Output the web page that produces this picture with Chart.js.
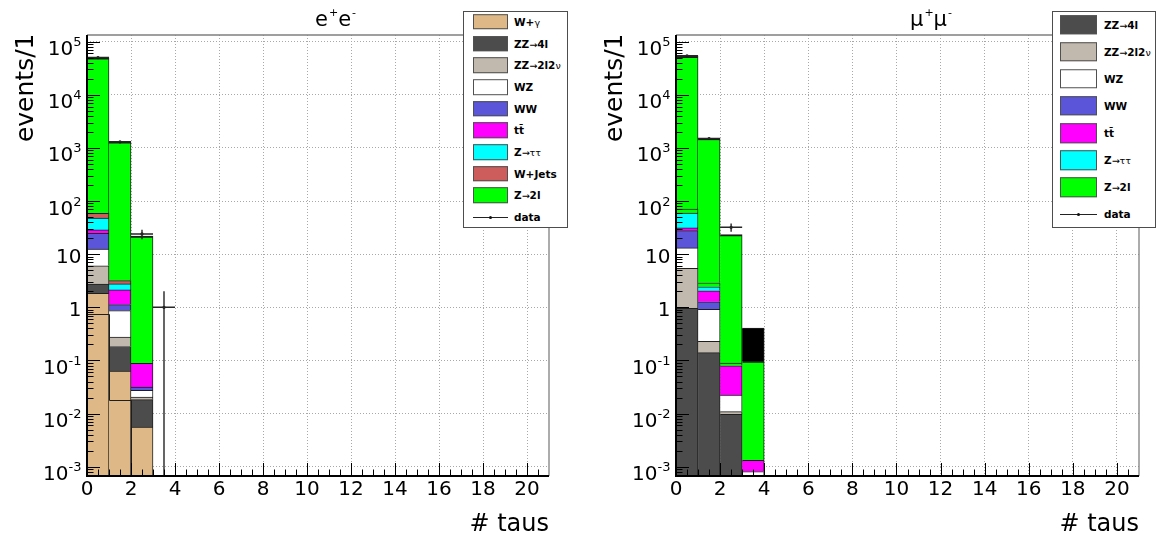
<!DOCTYPE html>
<html>
<head>
<meta charset="utf-8">
<title># taus</title>
<script src="https://cdn.jsdelivr.net/npm/chart.js@4.4.1/dist/chart.umd.min.js"></script>
<style>
  html, body { margin: 0; padding: 0; background: #fff; }
  #page { position: relative; width: 1156px; height: 538px; overflow: hidden; font-family: "DejaVu Sans", sans-serif; }
  canvas { position: absolute; top: 0; }
  .ttl { position: absolute; top: 9px; font-size: 21px; line-height: 21px; color: #000; white-space: nowrap; }
  .ttl sup { font-size: 11px; vertical-align: 10px; line-height: 0; margin-left: 1px; }
  .legend { position: absolute; box-sizing: border-box; border: 1px solid #4d4d4d; background: #fff; }
  .legend .row { position: absolute; left: 0; right: 0; }
  .legend .sw { position: absolute; top: 50%; transform: translateY(-50%); box-sizing: border-box; border: 1px solid #505050; }
  .legend .ln { position: absolute; top: 50%; height: 0; border-top: 1.5px solid #222; }
  .legend .dot { position: absolute; top: 50%; width: 3px; height: 3px; margin: -1px 0 0 -1.5px; border-radius: 50%; background: #111; }
  .legend .tx { position: absolute; top: 50%; transform: translateY(-50%); font-weight: bold; font-size: 10.5px; line-height: 12px; white-space: nowrap; color: #000; }
  .legend .sym { font-weight: normal; font-size: 9.5px; }
</style>
</head>
<body>
<div id="page">
  <canvas id="eeChart" width="578" height="538" style="left:0"></canvas>
  <canvas id="mmChart" width="578" height="538" style="left:578px"></canvas>
  <div class="ttl" style="left:315px">e<sup>+</sup>e<sup>-</sup></div>
  <div class="ttl" style="left:910px">μ<sup>+</sup>μ<sup>-</sup></div>
  <div id="eeLegend" class="legend" style="left:463px;top:11px;width:105px;height:217px"></div>
  <div id="mmLegend" class="legend" style="left:1052px;top:11px;width:104px;height:217px"></div>
</div>
<script>
// one bin per tau multiplicity
const binCenters = [0.5, 1.5, 2.5, 3.5];
const xTickValues = [0, 2, 4, 6, 8, 10, 12, 14, 16, 18, 20];
const yDecades = [-3, -2, -1, 0, 1, 2, 3, 4, 5];
const xRange = [0, 21];
const yRange = [6.7e-4, 1.33e5];
const xTitle = '# taus';
const yTitle = 'events/1';

// e+e- channel, stacked from the bottom up
const eeWgamma  = [1.83, 0.063, 0.0056, 0];
const eeZZ4l    = [0.92, 0.12, 0.0127, 0];
const eeZZ2l2nu = [3.28, 0.091, 0.0022, 0];
const eeWZ      = [6.37, 0.593, 0.0069, 0];
const eeWW      = [12.4, 0.258, 0.0042, 0];
const eeTTbar   = [3.8, 1.0, 0.057, 0];
const eeZtautau = [19.3, 0.63, 0, 0];
const eeWjets   = [11, 0.42, 0, 0];
const eeZ2l     = [49240, 1294, 21.9, 0];
const eeOutline = [0.75, 0.018, 0, 0];
const eeData    = [50100, 1300, 24, 1];

// mu+mu- channel
const mmZZ4l    = [0.96, 0.14, 0.0097, 0];
const mmZZ2l2nu = [4.44, 0.09, 0.0012, 0];
const mmWZ      = [7.7, 0.69, 0.0114, 0.00081];
const mmWW      = [14.6, 0.35, 0, 0];
const mmTTbar   = [3.5, 0.78, 0.057, 0.00051];
const mmZtautau = [28.4, 0.38, 0, 0];
const mmZ2lLow  = [11.2, 0.46, 0.01, 0];
const mmZ2l     = [52930, 1497, 23.2, 0.0957];
const mmOther   = [0, 0, 0, 0.31];
const mmData    = [54000, 1500, 32, 0];

const processColors = {
  'W+γ': '#deb887',
  'ZZ→4l': '#4c4c4c',
  'ZZ→2l2ν': '#c1b9ad',
  'WZ': '#ffffff',
  'WW': '#5b55d9',
  'tt̄': '#ff00ff',
  'Z→ττ': '#00ffff',
  'W+Jets': '#cd5c5c',
  'Z→2l': '#00ff00'
};

const eeStack = [
  { label: 'W+γ', values: eeWgamma },
  { label: 'ZZ→4l', values: eeZZ4l },
  { label: 'ZZ→2l2ν', values: eeZZ2l2nu },
  { label: 'WZ', values: eeWZ },
  { label: 'WW', values: eeWW },
  { label: 'tt̄', values: eeTTbar },
  { label: 'Z→ττ', values: eeZtautau },
  { label: 'W+Jets', values: eeWjets },
  { label: 'Z→2l', values: eeZ2l }
];

const mmStack = [
  { label: 'ZZ→4l', values: mmZZ4l },
  { label: 'ZZ→2l2ν', values: mmZZ2l2nu },
  { label: 'WZ', values: mmWZ },
  { label: 'WW', values: mmWW },
  { label: 'tt̄', values: mmTTbar },
  { label: 'Z→ττ', values: mmZtautau },
  { label: 'Z→2l low', values: mmZ2lLow, color: '#00ff00', inLegend: false },
  { label: 'Z→2l', values: mmZ2l },
  { label: 'other', values: mmOther, color: '#000000', inLegend: false }
];

// frame, inward ticks, labels, data error bars
const rootPad = {
  id: 'rootPad',
  afterDatasetsDraw(chart, args, opts) {
    const { ctx, chartArea: a } = chart;
    const x = chart.scales.x, y = chart.scales.y;
    const yAt = v => (v > 0 ? y.getPixelForValue(v) : a.bottom);
    const px = v => Math.round(x.getPixelForValue(v)) + 0.5;
    ctx.save();
    ctx.beginPath();
    ctx.rect(a.left, a.top, a.right - a.left, a.bottom - a.top);
    ctx.clip();

    if (opts.outline) {
      ctx.strokeStyle = '#1e1e1e';
      ctx.lineWidth = 1;
      ctx.beginPath();
      ctx.moveTo(px(binCenters[0] - 0.5), a.bottom);
      opts.outline.forEach((v, i) => {
        const py = Math.round(yAt(v)) + 0.5;
        ctx.lineTo(px(binCenters[i] - 0.5), py);
        ctx.lineTo(px(binCenters[i] + 0.5), py);
      });
      ctx.lineTo(px(binCenters[binCenters.length - 1] + 0.5), a.bottom);
      ctx.stroke();
    }

    ctx.strokeStyle = '#262626';
    ctx.lineWidth = 1.4;
    opts.counts.forEach((n, i) => {
      if (!(n > 0)) return;
      const err = Math.sqrt(n);
      const cx = x.getPixelForValue(binCenters[i]);
      const cy = y.getPixelForValue(n);
      ctx.beginPath();
      ctx.moveTo(x.getPixelForValue(binCenters[i] - 0.5), cy);
      ctx.lineTo(x.getPixelForValue(binCenters[i] + 0.5), cy);
      ctx.moveTo(cx, yAt(n + err));
      ctx.lineTo(cx, yAt(n - err));
      ctx.stroke();
    });
    ctx.restore();
  },
  afterDraw(chart) {
    const { ctx, chartArea: a } = chart;
    const x = chart.scales.x, y = chart.scales.y;
    ctx.save();

    ctx.strokeStyle = '#808080';
    ctx.lineWidth = 1.3;
    ctx.beginPath();
    ctx.moveTo(a.left, a.top);
    ctx.lineTo(a.right, a.top);
    ctx.lineTo(a.right, a.bottom);
    ctx.stroke();

    ctx.strokeStyle = '#000';
    ctx.lineWidth = 1;
    ctx.beginPath();
    for (let d = yDecades[0] - 1; d <= yDecades[yDecades.length - 1]; d++) {
      for (let k = 1; k <= 9; k++) {
        const v = k * Math.pow(10, d);
        if (v < y.min || v > y.max) continue;
        const py = Math.round(y.getPixelForValue(v)) + 0.5;
        ctx.moveTo(a.left, py);
        ctx.lineTo(a.left + (k === 1 ? 13 : 6.5), py);
      }
    }
    for (let v = x.min; v < x.max; v += 0.5) {
      const tx = Math.round(x.getPixelForValue(v)) + 0.5;
      ctx.moveTo(tx, a.bottom);
      ctx.lineTo(tx, a.bottom - (v % 2 === 0 ? 13 : 6.5));
    }
    ctx.stroke();

    ctx.lineWidth = 2;
    ctx.beginPath();
    ctx.moveTo(a.left, a.top);
    ctx.lineTo(a.left, a.bottom);
    ctx.lineTo(a.right, a.bottom);
    ctx.stroke();

    ctx.fillStyle = '#000';
    ctx.textBaseline = 'alphabetic';
    ctx.textAlign = 'right';
    const right = a.left - 5.5;
    yDecades.forEach(d => {
      const py = y.getPixelForValue(Math.pow(10, d));
      if (d === 0 || d === 1) {
        ctx.font = '20px "DejaVu Sans"';
        ctx.fillText(d === 0 ? '1' : '10', right, py + 8.5);
      } else {
        const sup = String(d);
        ctx.font = '13px "DejaVu Sans"';
        ctx.fillText(sup, right, py + 4.5);
        const w = ctx.measureText(sup).width;
        ctx.font = '20px "DejaVu Sans"';
        ctx.fillText('10', right - w, py + 13.5);
      }
    });

    ctx.textAlign = 'center';
    ctx.font = '20px "DejaVu Sans"';
    xTickValues.forEach(v => ctx.fillText(String(v), x.getPixelForValue(v), a.bottom + 19));

    ctx.textAlign = 'right';
    ctx.font = '24px "DejaVu Sans"';
    ctx.fillText(xTitle, a.right, a.bottom + 55);

    ctx.translate(a.left - 54, a.top - 1.5);
    ctx.rotate(-Math.PI / 2);
    ctx.font = '25px "DejaVu Sans"';
    ctx.fillText(yTitle, 0, 0);
    ctx.restore();
  }
};

function drawChannel(canvasId, stack, counts, outline, padLeft, padRight) {
  const datasets = stack.map(s => ({
    type: 'bar',
    label: s.label,
    data: s.values.map((v, i) => ({ x: binCenters[i], y: v > 0 ? v : null })),
    backgroundColor: s.color || processColors[s.label],
    borderColor: '#1e1e1e',
    borderWidth: { top: s.label === 'Z→2l' ? 2 : 1, right: 1, bottom: 0, left: 0 },
    barPercentage: 1,
    categoryPercentage: 1
  }));
  datasets.push({
    type: 'line',
    label: 'data',
    order: -1,
    data: counts.map((v, i) => ({ x: binCenters[i], y: v > 0 ? v : null })),
    showLine: false,
    pointRadius: 1.6,
    pointBackgroundColor: '#111',
    pointBorderWidth: 0
  });

  return new Chart(document.getElementById(canvasId), {
    type: 'bar',
    data: { datasets },
    options: {
      responsive: false,
      animation: false,
      events: [],
      layout: { padding: { left: padLeft, right: padRight, top: 35, bottom: 62 } },
      plugins: {
        legend: { display: false },
        tooltip: { enabled: false },
        rootPad: { counts, outline }
      },
      scales: {
        x: {
          type: 'linear', min: xRange[0], max: xRange[1], stacked: true, offset: false,
          afterBuildTicks: s => { s.ticks = xTickValues.map(v => ({ value: v })); },
          afterFit: s => { s.height = 0; },
          ticks: { display: false },
          grid: { color: '#a8a8a8', lineWidth: 1, drawTicks: false, offset: false },
          border: { display: false, dash: [1, 2] }
        },
        y: {
          type: 'logarithmic', min: yRange[0], max: yRange[1], stacked: true,
          afterBuildTicks: s => { s.ticks = yDecades.map(d => ({ value: Math.pow(10, d) })); },
          afterFit: s => { s.width = 0; },
          ticks: { display: false },
          grid: { color: '#a8a8a8', lineWidth: 1, drawTicks: false },
          border: { display: false, dash: [1, 2] }
        }
      }
    },
    plugins: [rootPad]
  });
}

function fillLegend(boxId, stack, swLeft, swWidth, textLeft) {
  const box = document.getElementById(boxId);
  const entries = stack.filter(s => s.inLegend !== false);
  const pitch = box.offsetHeight / (entries.length + 1);
  const mark = t => t.replace(/([→γντ])/g, '<span class="sym">$1</span>');
  entries.forEach((s, i) => {
    const row = document.createElement('div');
    row.className = 'row';
    row.style.top = (i * pitch - 1) + 'px';
    row.style.height = pitch + 'px';
    row.innerHTML =
      `<span class="sw" style="left:${swLeft}px;width:${swWidth}px;height:${(pitch * 0.72).toFixed(1)}px;background:${processColors[s.label]}"></span>` +
      `<span class="tx" style="left:${textLeft}px">${mark(s.label)}</span>`;
    box.appendChild(row);
  });
  const row = document.createElement('div');
  row.className = 'row';
  row.style.top = (entries.length * pitch - 1) + 'px';
  row.style.height = pitch + 'px';
  row.innerHTML =
    `<span class="ln" style="left:${swLeft}px;width:${swWidth}px"></span>` +
    `<span class="dot" style="left:${swLeft + swWidth / 2}px"></span>` +
    `<span class="tx" style="left:${textLeft}px">data</span>`;
  box.appendChild(row);
}

drawChannel('eeChart', eeStack, eeData, eeOutline, 87, 29);
drawChannel('mmChart', mmStack, mmData, null, 98, 17);
fillLegend('eeLegend', eeStack, 9, 35, 50);
fillLegend('mmLegend', mmStack, 7, 37, 51);
</script>
</body>
</html>
